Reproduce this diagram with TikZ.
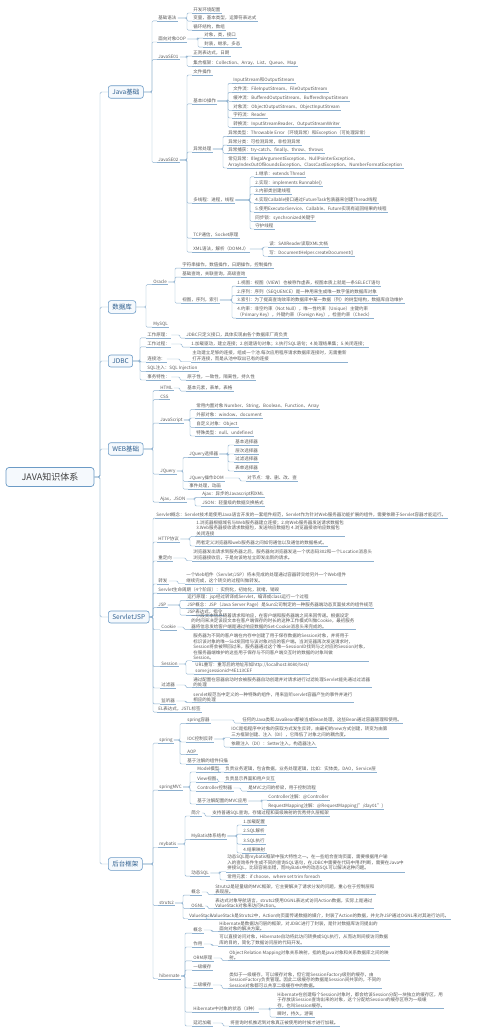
\documentclass[tikz,border=0pt]{standalone}
\usepackage{fontspec}
\setmainfont{Noto Sans CJK SC}
\definecolor{lc}{HTML}{8DB0CF}
\definecolor{tc}{HTML}{5A5A5A}
\definecolor{bc}{HTML}{6C9BC6}
\definecolor{bt}{HTML}{2E5E8E}
\definecolor{bf}{HTML}{F5F9FD}
\newcommand\myfs{\fontsize{4.5}{5.4}\selectfont}
\newcommand\myfb{\fontsize{6.5}{7.5}\selectfont}
\newcommand\kids[3]{\coordinate (bxc) at (#2,0);\foreach \k in {#3}{\draw[ln,rounded corners=1.2pt] (#1.east) -- (#1.east -| bxc) |- (\k.south west);}}
\begin{document}
\begin{tikzpicture}[x=1pt,y=-1pt,
 ln/.style={draw=lc,line width=0.45pt},
 tp/.style={anchor=west,inner xsep=1.2pt,inner ysep=0.7pt,text=tc,font=\myfs,align=left,
   append after command={(\tikzlastnode.south west) edge[ln] (\tikzlastnode.south east)}},
 br/.style={anchor=west,draw=bc,line width=0.6pt,rounded corners=2.5pt,fill=bf,text=bt,font=\myfb,inner xsep=4pt,minimum height=12pt},
 rt/.style={draw=bc,line width=0.7pt,rounded corners=3pt,fill=bf,text=black!75,font=\fontsize{9}{10}\selectfont,minimum width=88pt,minimum height=19pt}]
\useasboundingbox[fill=white] (0,0) rectangle (500,1033);

% root and branches
\node[rt] (root) at (50,477) {JAVA知识体系};
\node[br] (jb) at (108,92) {Java基础};
\node[br] (db) at (108,307) {数据库};
\node[br] (jd) at (108,361) {JDBC};
\node[br] (wb) at (108,449) {WEB基础};
\node[br] (sj) at (108,617) {ServletJSP};
\node[br] (ht) at (108,864) {后台框架};
\coordinate (rbx) at (100,0);
\foreach \b in {jb,db,jd,wb,sj,ht}{\draw[ln,rounded corners=1.5pt] (root.east) -- (root.east -| rbx) |- (\b.west);}

% ---------------- Java基础
\node[tp] (j1) at (157,18) {基础语法};
\node[tp] (j2) at (157,39) {面向对象OOP};
\node[tp] (j3) at (157,57) {JavaSE01};
\node[tp] (j4) at (157,160) {JavaSE02};
\kids{jb}{152}{j1,j2,j3,j4}
\node[tp] (j1a) at (192,10) {开发环境配置};
\node[tp] (j1b) at (192,18) {变量，基本类型，运算符表达式};
\node[tp] (j1c) at (192,27) {循环结构，数组};
\kids{j1}{187}{j1a,j1b,j1c}
\node[tp] (j2a) at (203,35) {对象，类，接口};
\node[tp] (j2b) at (203,44) {封装，继承，多态};
\kids{j2}{198}{j2a,j2b}
\node[tp] (j3a) at (192,53) {正则表达式，日期};
\node[tp] (j3b) at (192,63) {集合框架：Collection、Array、List、Queue、Map};
\kids{j3}{187}{j3a,j3b}
\node[tp] (j4a) at (192,72) {文件操作};
\node[tp] (j4b) at (192,101) {基本IO操作};
\node[tp] (j4c) at (192,149) {异常处理};
\node[tp] (j4d) at (192,200) {多线程：进程，线程};
\node[tp] (j4e) at (192,235) {TCP通信，Socket原理};
\node[tp] (j4f) at (192,249) {XML语法，解析（DOM4J）};
\kids{j4}{187}{j4a,j4b,j4c,j4d,j4e,j4f}
\node[tp] (io1) at (232,80) {InputStream和OutputStream};
\node[tp] (io2) at (232,89) {文件流：FileInputStream、FileOutputStream};
\node[tp] (io3) at (232,98) {缓冲流：BufferedOutputStream、BufferedInputStream};
\node[tp] (io4) at (232,107) {对象流：ObjectOutputStream、ObjectInputStream};
\node[tp] (io5) at (232,115) {字符流：Reader};
\node[tp] (io6) at (232,124) {转换流：InputStreamReader、OutputStreamWriter};
\kids{j4b}{228}{io1,io2,io3,io4,io5,io6}
\node[tp] (ex1) at (227,133) {异常类型：Throwable Error（环境异常）和Exception（可处理异常）};
\node[tp] (ex2) at (227,142) {异常分类：可检测异常，非检测异常};
\node[tp] (ex3) at (227,150) {异常捕获：try-catch、finally、throw、throws};
\node[tp] (ex4) at (227,162) {常见异常：IllegalArgumentException、NullPointerException、\\ArrayIndexOutOfBoundsException、ClassCastException、NumberFormatException};
\kids{j4c}{223}{ex1,ex2,ex3,ex4}
\node[tp] (th1) at (254,174) {1.继承：extends Thread};
\node[tp] (th2) at (254,183) {2.实现：implements Runnable()};
\node[tp] (th3) at (254,191) {3.内部类创建线程};
\node[tp] (th4) at (254,200) {4.实现Callable接口通过FutureTask包装器来创建Thread线程};
\node[tp] (th5) at (254,209) {5.使用ExecutorService、Callable、Future实现有返回结果的线程};
\node[tp] (th6) at (254,218) {同步锁：synchronized关键字};
\node[tp] (th7) at (254,226) {守护线程};
\kids{j4d}{250}{th1,th2,th3,th4,th5,th6,th7}
\node[tp] (x1) at (268,244) {读：SAXReader读取XML文档};
\node[tp] (x2) at (268,253) {写：DocumentHelper.createDocument()};
\kids{j4f}{263}{x1,x2}

% ---------------- 数据库
\node[tp] (d1) at (152,282) {Oracle};
\node[tp] (d2) at (152,324) {MySQL};
\kids{db}{146}{d1,d2}
\node[tp] (d1a) at (181,265) {字符串操作，数值操作，日期操作，控制操作};
\node[tp] (d1b) at (181,274) {基础查询，关联查询，高级查询};
\node[tp] (d1c) at (181,300) {视图，序列，索引};
\kids{d1}{175}{d1a,d1b,d1c}
\node[tp] (v1) at (236,283) {1.视图：视图（VIEW）也被称作虚表，视图本质上就是一条SELECT语句};
\node[tp] (v2) at (236,292) {2.序列：序列（SEQUENCE）是一种用来生成唯一数字值的数据库对象};
\node[tp] (v3) at (236,300) {3.索引：为了提高查询效率的数据库中某一数据（列）的树型结构，数据库自动维护};
\node[tp] (v4) at (236,312) {4.约束：非空约束（Not Null），唯一性约束（Unique）主键约束\\（Primary Key），外键约束（Foreign Key），检查约束（Check）};
\kids{d1c}{232}{v1,v2,v3,v4}

% ---------------- JDBC
\node[tp] (k1) at (146,335) {工作原理：};
\node[tp] (k2) at (146,344) {工作过程：};
\node[tp] (k3) at (146,359) {连接池：};
\node[tp] (k4) at (146,368) {SQL注入：SQL Injection};
\node[tp] (k5) at (146,377) {事务特性：};
\kids{jd}{140}{k1,k2,k3,k4,k5}
\node[tp] (k1t) at (185,335) {JDBC只定义接口，具体实现由各个数据库厂商负责};
\kids{k1}{180}{k1t}
\node[tp] (k2t) at (190,344) {1.加载驱动，建立连接；2.创建语句对象；3.执行SQL语句；4.处理结果集；5.关闭连接；};
\kids{k2}{182}{k2t}
\node[tp] (k3t) at (191,356) {主动建立足够的连接，组成一个池.每次应用程序请求数据库连接时，无需重新\\打开连接，而是从池中取出已有的连接};
\kids{k3}{180}{k3t}
\node[tp] (k5t) at (186,377) {原子性，一致性，隔离性，持久性};
\kids{k5}{180}{k5t}

% ---------------- WEB基础
\node[tp] (w1) at (159,388) {HTML};
\node[tp] (w2) at (159,397) {CSS};
\node[tp] (w3) at (159,420) {JavaScript};
\node[tp] (w4) at (159,471) {JQuery};
\node[tp] (w5) at (159,499) {Ajax，JSON};
\kids{wb}{153}{w1,w2,w3,w4,w5}
\node[tp] (w1t) at (186,388) {基本元素，表单，表格};
\kids{w1}{180}{w1t}
\node[tp] (w3a) at (195,406) {常用内置对象 Number、String、Boolean、Function、Array};
\node[tp] (w3b) at (195,415) {外部对象：window、document};
\node[tp] (w3c) at (195,424) {自定义对象：Object};
\node[tp] (w3d) at (195,433) {特殊类型：null、undefined};
\kids{w3}{190}{w3a,w3b,w3c,w3d}
\node[tp] (w4a) at (188,454) {JQuery选择器};
\node[tp] (w4b) at (188,478) {JQuery操作DOM};
\node[tp] (w4c) at (188,486) {事件处理，动画};
\kids{w4}{183}{w4a,w4b,w4c}
\node[tp] (s1) at (234,442) {基本选择器};
\node[tp] (s2) at (234,451) {层次选择器};
\node[tp] (s3) at (234,459) {过滤选择器};
\node[tp] (s4) at (234,468) {表单选择器};
\kids{w4a}{228}{s1,s2,s3,s4}
\node[tp] (w4bt) at (246,478) {对节点：增、删、改、查};
\kids{w4b}{240}{w4bt}
\node[tp] (w5a) at (201,494) {Ajax：异步的Javascript和XML};
\node[tp] (w5b) at (201,503) {JSON：轻量级的数据交换格式};
\kids{w5}{195}{w5a,w5b}

% ---------------- ServletJSP
\node[tp] (s0) at (155,515) {Servlet概念：Servlet技术是使用Java语言开发的一套组件规范，Servlet作为针对Web服务器功能扩展的组件，需要依赖于Servlet容器才能运行。};
\node[tp] (sh) at (157,539) {HTTP协议};
\node[tp] (sr) at (157,558) {重定向};
\node[tp] (sf) at (157,581) {转发};
\node[tp] (sl) at (157,590) {Servlet生命周期（4个阶段）：实例化，初始化，就绪，销毁};
\node[tp] (sp) at (157,605) {JSP};
\node[tp] (sc) at (160,627) {Cookie};
\node[tp] (ss) at (160,664) {Session};
\node[tp] (sfl) at (160,685) {过滤器};
\node[tp] (sli) at (160,701) {监听器};
\node[tp] (sel) at (157,709) {EL表达式，JSTL标签};
\kids{sj}{153}{s0,sh,sr,sf,sl,sp,sc,ss,sfl,sli,sel}
\node[tp] (sh1) at (195,528) {1.浏览器根据域名与Web服务器建立连接；2.向Web服务器发送请求数据包\\3.Web服务器接收请求数据包，发送响应数据包 4.浏览器接收响应数据包\\关闭连接};
\node[tp] (sh2) at (195,543) {两者定义浏览器和web服务器之间如何通信以及通信的数据格式。};
\kids{sh}{190}{sh1,sh2}
\node[tp] (srt) at (192,555) {浏览器发出请求到服务器之后，服务器向浏览器发送一个状态码302和一个Location消息头\\浏览器接收后，于是向该地址立即发出新的请求。};
\kids{sr}{186}{srt}
\node[tp] (sft) at (185,578) {一个Web组件（Servlet/JSP）将未完成的处理通过容器转交给另外一个Web组件\\继续完成，这个转交的过程叫做转发。};
\kids{sf}{178}{sft}
\node[tp] (sp1) at (186,597) {运行原理：jsp经过转译成Servlet，编译成class运行一个过程};
\node[tp] (sp2) at (186,605) {JSP概念：JSP（Java Server Page）是Sun公司制定的一种服务器端动态页面技术的组件规范};
\node[tp] (sp3) at (186,612) {JSP表达式，指令};
\kids{sp}{180}{sp1,sp2,sp3}
\node[tp] (sct) at (190,621) {一小段文本信息随着请求和响应，在客户端和服务器端之间来回传递。根据设定\\的时间来决定该段文本在客户端保存的时长的这种工作模式叫做Cookie，最初服务\\器将信息发给客户端是通过响应数据的Set-Cookie消息头来完成的。};
\kids{sc}{184}{sct}
\node[tp] (ss1) at (192,647) {服务器为不同的客户端在内存中创建了用于保存数据的Session对象，并将用于\\标识该对象的唯一Sid发回给与该对象对应的客户端。当浏览器再次发送请求时，\\Session将会被带回过来，服务器通过这个唯一SessionID找到与之对应的Session对象，\\在服务器端维护的这些用于保存与不同客户端交互时的数据的对象叫做\\Session。};
\node[tp] (ss2) at (194,668) {URL重写：重写后的地址形如http://localhost:8080/test/\\some;jsessionid=4E113CEF};
\kids{ss}{186}{ss1,ss2}
\node[tp] (sflt) at (192,682) {通过配置在容器启动时会被服务器自动创建并对请求进行过滤处理Servlet能先通过过滤器\\的处理};
\kids{sfl}{186}{sflt}
\node[tp] (slit) at (192,697) {servlet规范当中定义的一种特殊的组件，用来监听servlet容器产生的事件并进行\\相应的处理};
\kids{sli}{186}{slit}

% ---------------- 后台框架
\node[tp] (f1) at (158,740) {spring};
\node[tp] (f2) at (158,787) {springMVC};
\node[tp] (f3) at (158,844) {mybatis};
\node[tp] (f4) at (158,903) {struts2};
\node[tp] (f5) at (158,976) {hibernate};
\kids{ht}{153}{f1,f2,f3,f4,f5}
\node[tp] (f1a) at (186,720) {spring容器};
\node[tp] (f1b) at (186,739) {IOC控制反转};
\node[tp] (f1c) at (186,752) {AOP};
\node[tp] (f1d) at (186,761) {基于注解的组件扫描};
\kids{f1}{180}{f1a,f1b,f1c,f1d}
\node[tp] (f1at) at (241,720) {任何的Java类和JavaBean都被当成Bean处理，这些Bean通过容器管理和使用。};
\kids{f1a}{234}{f1at}
\node[tp] (f1b1) at (230,732) {IOC是指程序中对象的获取方式发生反转，由最初的new方式创建，转变为由第\\三方框架创建、注入（DI），它降低了对象之间的耦合度。};
\node[tp] (f1b2) at (230,744) {依赖注入（DI）：Setter注入，构造器注入};
\kids{f1b}{224}{f1b1,f1b2}
\node[tp] (f2a) at (196,769) {Model模型};
\node[tp] (f2b) at (196,779) {View视图};
\node[tp] (f2c) at (196,788) {Controller控制器};
\node[tp] (f2d) at (196,801) {基于注解配置的MVC应用};
\kids{f2}{190}{f2a,f2b,f2c,f2d}
\node[tp] (f2at) at (224,769) {负责业务逻辑，包含数据，业务处理逻辑，比如：实体类，DAO，Service层};
\kids{f2a}{218}{f2at}
\node[tp] (f2bt) at (224,779) {负责显示界面和用户交互};
\kids{f2b}{218}{f2bt}
\node[tp] (f2ct) at (247,788) {是MVC之间的桥梁，用于控制流程};
\kids{f2c}{241}{f2ct}
\node[tp] (f2d1) at (267,797) {Controller注解：@Controller};
\node[tp] (f2d2) at (267,806) {RequestMapping注解：@RequestMapping("/day01")};
\kids{f2d}{262}{f2d1,f2d2}
\node[tp] (f3a) at (190,813) {简介};
\node[tp] (f3b) at (190,836) {MyBatis体系结构};
\node[tp] (f3c) at (190,873) {动态SQL};
\kids{f3}{185}{f3a,f3b,f3c}
\node[tp] (f3at) at (211,813) {支持普通SQL查询，存储过程和高级映射的优秀持久层框架};
\kids{f3a}{205}{f3at}
\node[tp] (m1) at (242,822) {1.加载配置};
\node[tp] (m2) at (242,831) {2.SQL解析};
\node[tp] (m3) at (242,841) {3.SQL执行};
\node[tp] (m4) at (242,850) {4.结果映射};
\kids{f3b}{237}{m1,m2,m3,m4}
\node[tp] (f3c1) at (226,863) {动态SQL是mybatis框架中强大特性之一。在一些组合查询页面，需要根据用户输\\入的查询条件生成不同的查询SQL语句，在JDBC中需要在代码中用if判断，需要在Java中\\拼接SQL，比较容易出错，而MyBatis中的动态SQL可以解决这种问题。};
\node[tp] (f3c2) at (226,877) {常用元素：if choose、where set trim foreach};
\kids{f3c}{220}{f3c1,f3c2}
\node[tp] (f4a) at (190,892) {概念};
\node[tp] (f4b) at (190,906) {OGNL};
\node[tp] (f4c) at (188,916) {ValueStack};
\kids{f4}{183}{f4a,f4b,f4c}
\node[tp] (f4at) at (214,889) {Struts2是轻量级的MVC框架，它主要解决了请求分发的问题，重心在于控制层和\\表现层。};
\kids{f4a}{208}{f4at}
\node[tp] (f4bt) at (214,903) {表达式对象导航语言，struts2使用OGNL表达式访问Action数据，实际上是通过\\ValueStack对象来访问Action。};
\kids{f4b}{208}{f4bt}
\node[tp] (f4ct) at (210,916) {ValueStack是Struts2中，Action向页面传递数据的媒介，封装了Action的数据，并允许JSP通过OGNL来对其进行访问。};
\kids{f4c}{206}{f4ct}
\node[tp] (f5a) at (192,930) {概念};
\node[tp] (f5b) at (192,944) {作用};
\node[tp] (f5c) at (192,958) {ORM原理};
\node[tp] (f5d) at (192,967) {一级缓存};
\node[tp] (f5e) at (192,985) {二级缓存};
\node[tp] (f5f) at (192,1009) {Hibernate中对象的状态（3种）};
\node[tp] (f5g) at (192,1023) {延迟加载};
\kids{f5}{185}{f5a,f5b,f5c,f5d,f5e,f5f,f5g}
\node[tp] (f5at) at (218,926) {Hibernate是数据访问层的框架，对JDBC进行了封装，是针对数据库访问提出的\\面向对象的解决方案。};
\kids{f5a}{212}{f5at}
\node[tp] (f5bt) at (218,940) {可以直接访问对象，Hibernate自动将此访问转换成SQL执行，从而达到间接访问数据\\库的目的，简化了数据访问层的代码开发。};
\kids{f5b}{212}{f5bt}
\node[tp] (f5ct) at (228,955) {Object Relation Mapping对象关系映射，指的是java对象和关系数据库之间的映\\射。};
\kids{f5c}{222}{f5ct}
\node[tp] (f5et) at (228,980) {类似于一级缓存，可以缓存对象，但它是SessionFactory级别的缓存，由\\SessionFactory负责管理。因此二级缓存的数据是Session间共享的，不同的\\Session对象都可以共享二级缓存中的数据。};
\kids{f5e}{222}{f5et}
\node[tp] (f5f1) at (276,1000) {Hibernate在创建每个Session对象时，都会给该Session分配一块独立的缓存区，用\\于存放该Session查询出来的对象，这个分配给Session的缓存区称为一级缓\\存，也叫Session缓存。};
\node[tp] (f5f2) at (276,1014) {瞬时，持久，游离};
\kids{f5f}{270}{f5f1,f5f2}
\node[tp] (f5gt) at (229,1023) {将查询时机推迟到对象真正被使用的时候才进行加载。};
\kids{f5g}{223}{f5gt}
\end{tikzpicture}
\end{document}
